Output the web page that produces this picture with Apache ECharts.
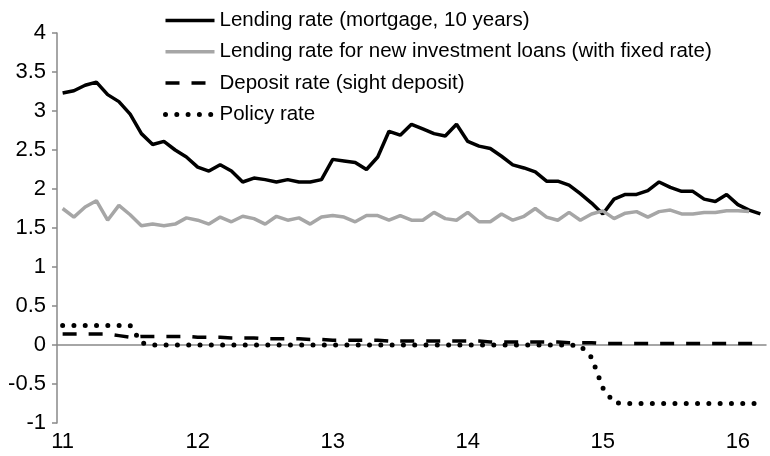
<!DOCTYPE html>
<html>
<head>
<meta charset="utf-8">
<script src="https://cdn.jsdelivr.net/npm/echarts@6/dist/echarts.min.js"></script>
<style>
  html, body { margin: 0; padding: 0; background: #fff; }
  #chart { width: 770px; height: 456px; }
</style>
</head>
<body>
<div id="chart"></div>
<script>
const months = [
  '2011-01', '2011-02', '2011-03', '2011-04', '2011-05', '2011-06', '2011-07', '2011-08', '2011-09', '2011-10', '2011-11', '2011-12',
  '2012-01', '2012-02', '2012-03', '2012-04', '2012-05', '2012-06', '2012-07', '2012-08', '2012-09', '2012-10', '2012-11', '2012-12',
  '2013-01', '2013-02', '2013-03', '2013-04', '2013-05', '2013-06', '2013-07', '2013-08', '2013-09', '2013-10', '2013-11', '2013-12',
  '2014-01', '2014-02', '2014-03', '2014-04', '2014-05', '2014-06', '2014-07', '2014-08', '2014-09', '2014-10', '2014-11', '2014-12',
  '2015-01', '2015-02', '2015-03', '2015-04', '2015-05', '2015-06', '2015-07', '2015-08', '2015-09', '2015-10', '2015-11', '2015-12',
  '2016-01', '2016-02', '2016-03'
]
const yearLabels = ['11', '12', '13', '14', '15', '16']

const mortgage = [
  3.23, 3.26, 3.33, 3.37, 3.21, 3.12, 2.96, 2.71, 2.57, 2.61, 2.50, 2.41,
  2.28, 2.23, 2.31, 2.23, 2.09, 2.14, 2.12, 2.09, 2.12, 2.09, 2.09, 2.12,
  2.38, 2.36, 2.34, 2.25, 2.41, 2.74, 2.69, 2.83, 2.77, 2.71, 2.68, 2.83,
  2.61, 2.55, 2.52, 2.42, 2.31, 2.27, 2.22, 2.10, 2.10, 2.05, 1.94, 1.82,
  1.68, 1.87, 1.93, 1.93, 1.98, 2.09, 2.02, 1.97, 1.97, 1.87, 1.84, 1.93,
  1.80, 1.73, 1.68
]
const investFixed = [
  1.75, 1.64, 1.77, 1.85, 1.60, 1.79, 1.67, 1.53, 1.55, 1.53, 1.55, 1.63,
  1.60, 1.55, 1.64, 1.58, 1.65, 1.62, 1.55, 1.65, 1.60, 1.63, 1.55, 1.64,
  1.66, 1.64, 1.58, 1.66, 1.66, 1.60, 1.66, 1.60, 1.60, 1.70, 1.62, 1.60,
  1.70, 1.58, 1.58, 1.68, 1.60, 1.65, 1.75, 1.64, 1.60, 1.70, 1.60, 1.68,
  1.72, 1.62, 1.69, 1.71, 1.64, 1.71, 1.73, 1.68, 1.68, 1.70, 1.70, 1.72,
  1.72, 1.71, null
]
const deposit = [
  0.14, 0.14, 0.14, 0.14, 0.14, 0.12, 0.10, 0.11, 0.11, 0.11, 0.11, 0.11,
  0.10, 0.10, 0.10, 0.09, 0.09, 0.09, 0.08, 0.08, 0.08, 0.08, 0.07, 0.07,
  0.06, 0.06, 0.06, 0.06, 0.06, 0.05, 0.05, 0.05, 0.05, 0.05, 0.05, 0.05,
  0.05, 0.05, 0.04, 0.04, 0.04, 0.04, 0.04, 0.04, 0.04, 0.03, 0.03, 0.03,
  0.02, 0.02, 0.02, 0.02, 0.02, 0.02, 0.02, 0.02, 0.02, 0.02, 0.02, 0.02,
  0.02, 0.02, 0.02
]
const policy = [
  0.25, 0.25, 0.25, 0.25, 0.25, 0.25, 0.25, 0.03, 0, 0, 0, 0,
  0, 0, 0, 0, 0, 0, 0, 0, 0, 0, 0, 0,
  0, 0, 0, 0, 0, 0, 0, 0, 0, 0, 0, 0,
  0, 0, 0, 0, 0, 0, 0, 0, 0, 0, -0.01, -0.16,
  -0.55, -0.74, -0.75, -0.75, -0.75, -0.75, -0.75, -0.75, -0.75, -0.75, -0.75, -0.75,
  -0.75, -0.75, -0.75
]

const names = [
  'Lending rate (mortgage, 10 years)',
  'Lending rate for new investment loans (with fixed rate)',
  'Deposit rate (sight deposit)',
  'Policy rate'
]

const axisGray = '#898989'
const font = 'Liberation Sans, Arial, sans-serif'
const everyYear = (i) => i % 12 === 0

const styles = [
  { color: '#000', width: 3.5, type: 'solid' },
  { color: '#a6a6a6', width: 3.5, type: 'solid' },
  { color: '#000', width: 3.5, type: [14, 12] },
  { color: '#000', width: 5, type: [0, 11.3], cap: 'round' }
]

const chart = echarts.init(document.getElementById('chart'))
chart.setOption({
  animation: false,
  textStyle: { fontFamily: font },
  grid: { left: 57, right: 4, top: 33, bottom: 33 },
  legend: {
    orient: 'vertical',
    left: 158,
    top: 5,
    itemWidth: 49,
    itemHeight: 20,
    itemGap: 10.3,
    textStyle: { fontSize: 20.5, lineHeight: 20, color: '#000', fontFamily: font },
    data: names.map((n, i) => ({ name: n, itemStyle: { opacity: 0 }, lineStyle: styles[i] }))
  },
  xAxis: [
    {
      type: 'category',
      data: months,
      boundaryGap: true,
      axisLine: { show: false, onZero: false },
      axisTick: { show: false },
      axisLabel: {
        interval: (i) => everyYear(i),
        formatter: (v, i) => yearLabels[Math.floor(i / 12)],
        fontSize: 22,
        color: '#000',
        margin: 8
      }
    },
    {
      type: 'category',
      data: months,
      boundaryGap: true,
      position: 'bottom',
      axisLine: { onZero: true, lineStyle: { color: axisGray, width: 1.5 } },
      axisTick: { interval: (i) => everyYear(i), length: 5, lineStyle: { color: axisGray, width: 1.5 } },
      axisLabel: { show: false }
    }
  ],
  yAxis: {
    type: 'value',
    min: -1,
    max: 4,
    interval: 0.5,
    axisLine: { show: true, lineStyle: { color: axisGray, width: 1.5 } },
    axisTick: { show: true, length: 5, lineStyle: { color: axisGray, width: 1.5 } },
    splitLine: { show: false },
    axisLabel: { fontSize: 22, color: '#000', margin: 11 }
  },
  series: [mortgage, investFixed, deposit, policy].map((d, i) => ({
    name: names[i],
    type: 'line',
    symbol: 'none',
    data: d,
    itemStyle: { color: styles[i].color },
    lineStyle: styles[i]
  }))
})
</script>
</body>
</html>
